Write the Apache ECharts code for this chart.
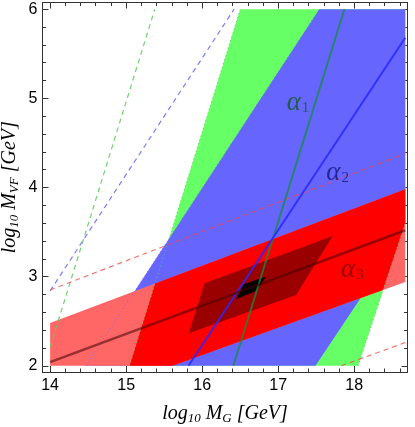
<!DOCTYPE html>
<html>
<head>
<meta charset="utf-8">
<script src="https://cdn.jsdelivr.net/npm/echarts@6/dist/echarts.min.js"></script>
<style>
html,body{margin:0;padding:0;background:#fff;}
#chart{width:415px;height:427px;}
</style>
</head>
<body>
<div id="chart"></div>
<script>
// ---- tick values ----
const xMajorTicks = [14, 15, 16, 17, 18];
const xMinorTicks = [14.2, 14.4, 14.6, 14.8, 15.2, 15.4, 15.6, 15.8, 16.2, 16.4, 16.6, 16.8, 17.2, 17.4, 17.6, 17.8, 18.2, 18.4, 18.6];
const yMajorTicks = [2, 3, 4, 5, 6];
const yMinorTicks = [2.2, 2.4, 2.6, 2.8, 3.2, 3.4, 3.6, 3.8, 4.2, 4.4, 4.6, 4.8, 5.2, 5.4, 5.6, 5.8];

// ---- regions (polygon vertices, [log10 MG, log10 MVF]) ----
const greenBand = [[15.045, 2], [18.05, 2], [18.67, 3.6], [18.67, 6], [16.5, 6]];
const blueBand = [[14.47, 2], [17.49, 2], [18.67, 3.51], [18.67, 6], [17.54, 6]];
const redBand = [[14, 2], [15.61, 2], [18.67, 2.94], [18.67, 3.98], [14, 2.48]];
const redCore = [[15.045, 2], [15.61, 2], [18.377, 2.85], [18.67, 3.6], [18.67, 3.98], [15.38, 2.923]];
const darkRegion = [[15.824, 2.364], [17.235, 2.793], [17.716, 3.456], [16.03, 2.925]];
const blackRegion = [[16.447, 2.749], [16.71, 2.838], [16.84, 3.0], [16.546, 2.914]];

// ---- lines ----
const alpha1Line = [[16.41, 2], [17.87, 6]];
const alpha2Line = [[15.82, 2], [18.67, 5.68]];
const alpha3Line = [[14, 2.04], [18.67, 3.52]];
const greenDashed = [[14, 2.21], [15.377, 6]];
const blueDashed = [[14, 2.84], [16.42, 6]];
const redDashedHigh = [[14, 2.85], [18.67, 4.38]];
const redDashedLow = [[17.83, 2], [18.67, 2.26]];
const greenDottedL = [[15.045, 2], [16.5, 6]];
const greenDottedR = [[18.05, 2], [18.67, 3.6]];
const blueDottedL = [[14.47, 2], [17.54, 6]];

// ---- labels ----
const alphaLabels = [
  { name: '1', pos: [17.26, 4.95], color: '#0e5c1c' },
  { name: '2', pos: [17.78, 4.16], color: '#15157a' },
  { name: '3', pos: [17.975, 3.07], color: '#800000' }
];

const FRAME = '#333';
const serif = '"Liberation Serif", "DejaVu Serif", serif';

function polySeries(pts, color, z) {
  return {
    type: 'custom', data: pts, z: z, silent: true, clip: true,
    renderItem: function (params, api) {
      if (params.dataIndex !== 0) return null;
      const points = pts.map(function (p) { return api.coord(p); });
      return { type: 'polygon', shape: { points: points }, style: { fill: color } };
    }
  };
}
function lineSeries(pts, color, width, type, z) {
  return {
    type: 'line', data: pts, z: z, silent: true, showSymbol: false, symbol: 'none',
    clip: true, animation: false,
    lineStyle: { color: color, width: width, type: type, cap: 'butt' }
  };
}

function xAx(pos, ticks, len, labels) {
  return {
    type: 'value', position: pos, min: 13.9, max: 18.7,
    axisLine: { show: true, onZero: false, lineStyle: { color: FRAME, width: 1 } },
    axisTick: { show: true, inside: true, length: len, customValues: ticks, lineStyle: { color: FRAME, width: 1 } },
    axisLabel: labels ? { show: true, customValues: ticks, margin: 6, color: '#000', fontSize: 16, fontFamily: '"Liberation Sans", Arial, sans-serif' } : { show: false },
    splitLine: { show: false }
  };
}
function yAx(pos, ticks, len, labels) {
  return {
    type: 'value', position: pos, min: 1.93, max: 6.075,
    axisLine: { show: true, onZero: false, lineStyle: { color: FRAME, width: 1 } },
    axisTick: { show: true, inside: true, length: len, customValues: ticks, lineStyle: { color: FRAME, width: 1 } },
    axisLabel: labels ? { show: true, customValues: ticks, margin: 5, color: '#000', fontSize: 16, fontFamily: '"Liberation Sans", Arial, sans-serif' } : { show: false },
    splitLine: { show: false }
  };
}

const nameRich = {
  t: { fontFamily: serif, fontStyle: 'italic', fontSize: 20, color: '#000' },
  s: { fontFamily: serif, fontStyle: 'italic', fontSize: 13, color: '#000', padding: [10, 0, 0, 0] }
};

const xMain = xAx('bottom', xMajorTicks, 6, true);
xMain.name = '{t|log}{s|10}{t| M}{s|G}{t| [GeV]}';
xMain.nameLocation = 'middle';
xMain.nameGap = 30;
xMain.nameTextStyle = { rich: nameRich };

const yMain = yAx('left', yMajorTicks, 6, true);
yMain.name = '{t|log}{s|10}{t| M}{s|VF}{t| [GeV]}';
yMain.nameLocation = 'middle';
yMain.nameGap = 21;
yMain.nameMoveOverlap = false;
yMain.nameRotate = 90;
yMain.nameTextStyle = { rich: nameRich };

const series = [
  polySeries(greenBand, '#66ff66', 1),
  polySeries(blueBand, '#6666ff', 2),
  polySeries(redBand, '#ff6666', 3),
  polySeries(redCore, '#ff0000', 4),
  polySeries(darkRegion, '#9a0000', 5),
  polySeries(blackRegion, '#000000', 6),
  lineSeries(greenDottedL, 'rgba(90,200,90,0.9)', 1, [1, 3], 7),
  lineSeries(greenDottedR, 'rgba(90,200,90,0.9)', 1, [1, 3], 7),
  lineSeries(blueDottedL, 'rgba(110,110,255,0.9)', 1, [1, 3], 7),
  lineSeries(greenDashed, 'rgba(100,205,100,0.9)', 1.2, [5, 4], 8),
  lineSeries(blueDashed, 'rgba(110,110,255,0.9)', 1.2, [5, 4], 8),
  lineSeries(redDashedHigh, 'rgba(240,70,70,0.75)', 1.2, [5, 4], 8),
  lineSeries(redDashedLow, 'rgba(240,70,70,0.75)', 1.2, [5, 4], 8),
  lineSeries(alpha1Line, 'rgba(20,140,60,0.75)', 2, 'solid', 9),
  lineSeries(alpha2Line, 'rgba(40,40,255,0.85)', 2, 'solid', 9),
  lineSeries(alpha3Line, 'rgba(70,0,0,0.55)', 2.5, 'solid', 9),
  {
    type: 'scatter', z: 10, silent: true, symbolSize: 0, animation: false,
    data: alphaLabels.map(function (a) {
      return {
        value: a.pos,
        label: {
          show: true, position: 'inside',
          formatter: '{a|\u03b1}{s|' + a.name + '}',
          rich: {
            a: { fontFamily: serif, fontStyle: 'italic', fontSize: 27, color: a.color },
            s: { fontFamily: serif, fontSize: 15, color: a.color, padding: [10, 0, 0, 1] }
          }
        }
      };
    })
  }
];

const chart = echarts.init(document.getElementById('chart'), null, { renderer: 'canvas' });
chart.setOption({
  backgroundColor: '#fff',
  animation: false,
  grid: { left: 42.5, right: 7.5, top: 2.5, bottom: 55, containLabel: false, outerBoundsMode: 'none' },
  xAxis: [xMain, xAx('bottom', xMinorTicks, 3.5, false), xAx('top', xMajorTicks, 6, false), xAx('top', xMinorTicks, 3.5, false)],
  yAxis: [yMain, yAx('left', yMinorTicks, 3.5, false), yAx('right', yMajorTicks, 6, false), yAx('right', yMinorTicks, 3.5, false)],
  series: series
});
</script>
</body>
</html>
